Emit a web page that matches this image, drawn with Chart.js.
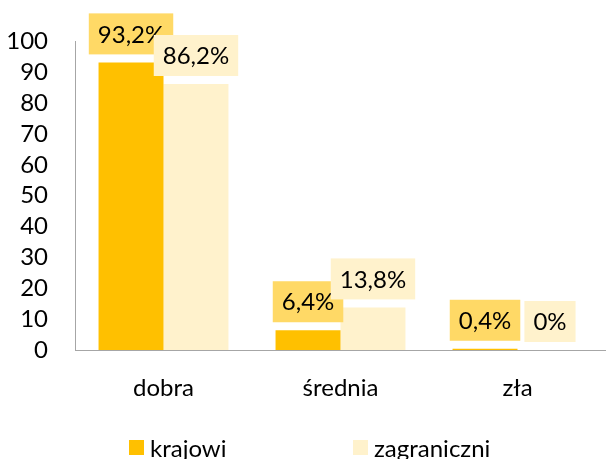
<!DOCTYPE html>
<html>
<head>
<meta charset="utf-8">
<script src="https://cdn.jsdelivr.net/npm/chart.js@4"></script>
<style>
  html, body { margin: 0; padding: 0; background: #fff; }
  #wrap { width: 606px; height: 459px; }
</style>
</head>
<body>
<div id="wrap"><canvas id="ocenaChart" width="606" height="459"></canvas></div>
<script>
const categories = ['dobra', 'średnia', 'zła'];
const krajowi = [93.2, 6.4, 0.4];
const zagraniczni = [86.2, 13.8, 0];
const seriesNames = ['krajowi', 'zagraniczni'];
const yTicks = [0, 10, 20, 30, 40, 50, 60, 70, 80, 90, 100];

const barColors = ['#FFC000', '#FFF2CC'];
const labelBg = ['#FFD966', '#FFF2CC'];
const FONT = 'Lato';

// value boxes above each bar
const boxLabels = {
    id: 'boxLabels',
    afterDatasetsDraw(chart) {
        const ctx = chart.ctx;
        ctx.save();
        ctx.font = `24px ${FONT}`;
        ctx.textAlign = 'center';
        ctx.textBaseline = 'middle';
        chart.data.datasets.forEach((ds, i) => {
            chart.getDatasetMeta(i).data.forEach((bar, j) => {
                const txt = String(ds.data[j]).replace('.', ',') + '%';
                const w = ctx.measureText(txt).width + 18;
                const h = 41;
                const bottom = bar.y - 8;
                ctx.fillStyle = labelBg[i];
                ctx.fillRect(bar.x - w / 2, bottom - h, w, h);
                ctx.fillStyle = '#000';
                ctx.fillText(txt, bar.x, bottom - h / 2 + 1);
            });
        });
        ctx.restore();
    }
};

// legend at the bottom
const bottomLegend = {
    id: 'bottomLegend',
    afterDraw(chart) {
        const ctx = chart.ctx;
        const xs = [129, 353];
        ctx.save();
        ctx.font = `24px ${FONT}`;
        ctx.textBaseline = 'middle';
        ctx.textAlign = 'left';
        seriesNames.forEach((name, i) => {
            ctx.fillStyle = barColors[i];
            ctx.fillRect(xs[i], 440, 15, 15);
            ctx.fillStyle = '#000';
            ctx.fillText(name, xs[i] + 21, 449);
        });
        ctx.restore();
    }
};

const ctx = document.getElementById('ocenaChart').getContext('2d');
const ocenaChart = new Chart(ctx, {
    type: 'bar',
    data: {
        labels: categories,
        datasets: [
            { label: seriesNames[0], data: krajowi, backgroundColor: barColors[0] },
            { label: seriesNames[1], data: zagraniczni, backgroundColor: barColors[1] }
        ]
    },
    options: {
        responsive: false,
        animation: false,
        layout: { padding: { top: 40, right: 0, left: 0, bottom: 0 } },
        datasets: { bar: { categoryPercentage: 0.734, barPercentage: 1 } },
        scales: {
            x: {
                grid: { display: false, drawTicks: false },
                border: { color: '#A6A6A6', width: 1 },
                ticks: { color: '#000', font: { family: FONT, size: 24 }, padding: 24 },
                afterFit(scale) { scale.height = 109; }
            },
            y: {
                min: 0,
                max: 100,
                afterBuildTicks(scale) { scale.ticks = yTicks.map(v => ({ value: v })); },
                grid: { display: false, drawTicks: false },
                border: { color: '#A6A6A6', width: 1 },
                ticks: { color: '#000', font: { family: FONT, size: 24 }, padding: 27, autoSkip: false },
                afterFit(scale) { scale.width = 75; }
            }
        },
        plugins: {
            legend: { display: false },
            tooltip: { enabled: false }
        }
    },
    plugins: [boxLabels, bottomLegend]
});
</script>
</body>
</html>
